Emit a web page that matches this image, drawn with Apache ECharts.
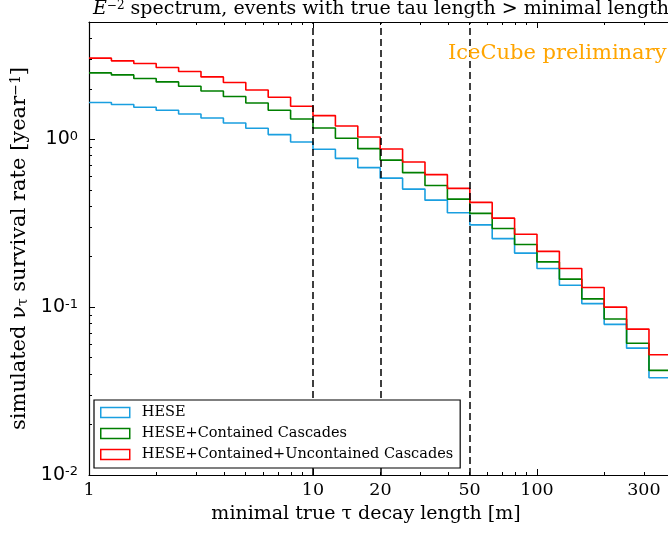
<!DOCTYPE html>
<html>
<head>
<meta charset="utf-8">
<script src="https://cdn.jsdelivr.net/npm/echarts@6/dist/echarts.min.js"></script>
<style>
  html, body { margin: 0; padding: 0; background: #fff; }
  #chart { width: 668px; height: 534px; }
</style>
</head>
<body>
<div id="chart"></div>
<script>
// bin edges of the tau decay length histogram [m]
var edges = [1, 1.259, 1.585, 1.995, 2.512, 3.162, 3.981, 5.012, 6.31, 7.943,
  10, 12.59, 15.85, 19.95, 25.12, 31.62, 39.81, 50.12, 63.1, 79.43,
  100, 125.9, 158.5, 199.5, 251.2, 316.2, 398.1];

// survival rate per bin [1/year]
var hese = [1.656, 1.611, 1.552, 1.490, 1.416, 1.340, 1.251, 1.163, 1.067, 0.964,
  0.872, 0.770, 0.678, 0.587, 0.505, 0.434, 0.365, 0.309, 0.256, 0.210,
  0.170, 0.135, 0.105, 0.079, 0.057, 0.038];
var contained = [2.488, 2.420, 2.303, 2.198, 2.072, 1.942, 1.799, 1.647, 1.490, 1.322,
  1.168, 1.014, 0.880, 0.752, 0.633, 0.531, 0.440, 0.362, 0.294, 0.236,
  0.186, 0.147, 0.112, 0.085, 0.061, 0.042];
var uncontained = [3.045, 2.934, 2.830, 2.680, 2.537, 2.355, 2.180, 1.969, 1.781, 1.574,
  1.385, 1.200, 1.032, 0.875, 0.732, 0.616, 0.510, 0.421, 0.339, 0.272,
  0.215, 0.170, 0.131, 0.100, 0.074, 0.052];

var seriesNames = ['HESE', 'HESE+Contained Cascades', 'HESE+Contained+Uncontained Cascades'];
var colors = ['#1a9fe0', '#007f00', '#ff0000'];

// vertical dashed markers
var cutLines = [10, 20, 50];

// ticks and labels
var xLabels = [1, 10, 20, 50, 100, 300];
var xMajor = [1, 10, 100];
var xMinor = [2, 3, 4, 5, 6, 7, 8, 9, 20, 30, 40, 50, 60, 70, 80, 90, 200, 300];
var yMajor = [0.01, 0.1, 1];
var yMinor = [0.02, 0.03, 0.04, 0.05, 0.06, 0.07, 0.08, 0.09,
  0.2, 0.3, 0.4, 0.5, 0.6, 0.7, 0.8, 0.9, 2, 3, 4];

var serif = 'DejaVu Serif';
var xMax = 384.5; // plot is cut at the right edge of the picture

function steps(vals) {
  return edges.map(function (e, i) {
    return [e, vals[Math.min(i, vals.length - 1)]];
  });
}

function xAx(pos, ticks, len, labels, line) {
  return {
    type: 'log', position: pos, min: 1, max: xMax,
    axisLine: { show: !!line, lineStyle: { color: '#000', width: 1.2 } },
    splitLine: { show: false },
    axisTick: { show: true, inside: true, length: len, customValues: ticks,
      lineStyle: { color: '#000', width: 1 } },
    axisLabel: labels ? {
      show: true, customValues: labels, margin: 6,
      fontFamily: serif, fontSize: 17.5, color: '#000',
      formatter: function (v) { return String(Math.round(v)); }
    } : { show: false }
  };
}

function yAx(ticks, len, labels, line) {
  return {
    type: 'log', position: 'left', min: 0.01, max: 5,
    axisLine: { show: !!line, lineStyle: { color: '#000', width: 1.2 } },
    splitLine: { show: false },
    axisTick: { show: true, inside: true, length: len, customValues: ticks,
      lineStyle: { color: '#000', width: 1 } },
    axisLabel: labels ? {
      show: true, customValues: labels, margin: 11,
      fontFamily: 'DejaVu Sans', fontSize: 19, color: '#000',
      formatter: function (v) { return '10{sup|' + Math.round(Math.log10(v)) + '}'; },
      rich: { sup: { fontFamily: 'DejaVu Sans', fontSize: 13, verticalAlign: 'top', lineHeight: 12 } }
    } : { show: false }
  };
}

var yMain = yAx(yMajor, 6, yMajor, true);
yMain.name = 'simulated ν{sub|τ} survival rate [year{sup|−1}]';
yMain.nameLocation = 'middle';
yMain.nameGap = 56;
yMain.nameTextStyle = {
  fontFamily: serif, fontSize: 21, color: '#000',
  rich: {
    sub: { fontFamily: serif, fontSize: 14, verticalAlign: 'bottom', lineHeight: 14 },
    sup: { fontFamily: serif, fontSize: 14, verticalAlign: 'top', lineHeight: 14 }
  }
};

var chart = echarts.init(document.getElementById('chart'));

var series = [hese, contained, uncontained].map(function (vals, i) {
  return {
    name: seriesNames[i], type: 'line', step: 'end',
    data: steps(vals), showSymbol: false, symbol: 'none',
    lineStyle: { color: colors[i], width: 1.6 },
    itemStyle: { color: colors[i] },
    clip: true, animation: false, z: 3
  };
});
series[0].markLine = {
  silent: true, symbol: 'none', animation: false,
  label: { show: false },
  lineStyle: { color: '#000', type: [7, 4], width: 1.5 },
  data: cutLines.map(function (v) { return { xAxis: v }; })
};

chart.setOption({
  animation: false,
  title: {
    text: '{e|E}{sup|−2} spectrum, events with true tau length > minimal length',
    left: 93, top: 0, padding: 0,
    textStyle: {
      fontFamily: serif, fontSize: 19, fontWeight: 'normal', color: '#000',
      rich: {
        e: { fontFamily: serif, fontSize: 19, fontStyle: 'italic' },
        sup: { fontFamily: serif, fontSize: 12, verticalAlign: 'top', lineHeight: 10 }
      }
    }
  },
  grid: { left: 89, top: 22, right: 0, bottom: 59 },
  xAxis: [
    xAx('bottom', xMajor, 6, xLabels, true),
    xAx('bottom', xMinor, 3, null, false),
    xAx('top', xMajor, 6, null, true),
    xAx('top', xMinor, 3, null, false)
  ],
  yAxis: [yMain, yAx(yMinor, 3, null, false)],
  legend: {
    orient: 'vertical', left: 94, top: 400, z: 20,
    padding: [5, 7, 6, 6], itemWidth: 29, itemHeight: 10, itemGap: 6,
    borderColor: '#000', borderWidth: 1.2, borderRadius: 0, backgroundColor: '#fff',
    textStyle: { fontFamily: serif, fontSize: 14.5, color: '#000', padding: [0, 0, 0, 7] },
    data: seriesNames.map(function (n, i) {
      return { name: n, icon: 'rect',
        itemStyle: { color: 'rgba(0,0,0,0)', borderColor: colors[i], borderWidth: 1.5 } };
    })
  },
  graphic: [
    { type: 'text', left: 448, top: 43, z: 10,
      style: { text: 'IceCube preliminary', fill: '#ffa500', font: '21px "DejaVu Serif"' } },
    { type: 'text', x: 366, y: 514, z: 10,
      style: { text: 'minimal true τ decay length [m]', fill: '#000',
        font: '19px "DejaVu Serif"', align: 'center', verticalAlign: 'middle' } }
  ],
  series: series
});
</script>
</body>
</html>
